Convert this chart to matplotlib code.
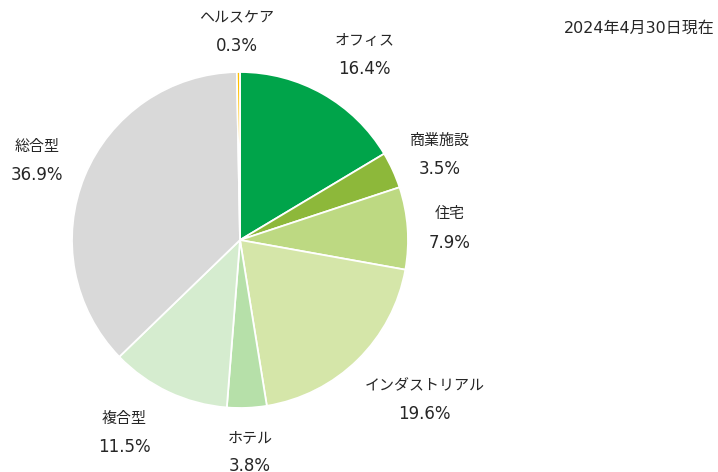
import matplotlib
matplotlib.use("Agg")
import matplotlib.pyplot as plt

plt.rcParams['font.family'] = ['DejaVu Sans', 'Noto Sans CJK JP']

categories = ["オフィス", "商業施設", "住宅", "インダストリアル", "ホテル", "複合型", "総合型", "ヘルスケア"]
shares = [16.4, 3.5, 7.9, 19.6, 3.8, 11.5, 36.9, 0.3]
colors = ["#00A44A", "#8DB83A", "#BDD982", "#D5E6A9", "#B6E0A9", "#D5ECCF", "#D9D9D9", "#FFC000"]

# label centres in data units (pie radius = 1)
label_xy = [(0.74, 1.10), (1.19, 0.51), (1.25, 0.07), (1.10, -0.95),
            (0.06, -1.26), (-0.69, -1.15), (-1.21, 0.47), (-0.02, 1.24)]

fig = plt.figure(figsize=(7.18, 4.72), dpi=100)
ax = fig.add_axes([72 / 718, 64 / 472, 336 / 718, 336 / 472])

ax.pie(shares, colors=colors, startangle=90, counterclock=False,
       wedgeprops=dict(edgecolor="white", linewidth=1.3))
ax.set_xlim(-1, 1)
ax.set_ylim(-1, 1)
ax.set_aspect("equal")

for name, val, (x, y) in zip(categories, shares, label_xy):
    ax.text(x, y + 0.085, name, ha="center", va="center", fontsize=10.8,
            color="#262626", clip_on=False)
    ax.text(x, y - 0.085, f"{val:.1f}%", ha="center", va="center", fontsize=12,
            color="#262626", clip_on=False)

fig.text(715 / 718, 1 - 28 / 472, "2024年4月30日現在", ha="right", va="center",
         fontsize=11.5, color="#262626")

fig.savefig("out.png", dpi=100)
